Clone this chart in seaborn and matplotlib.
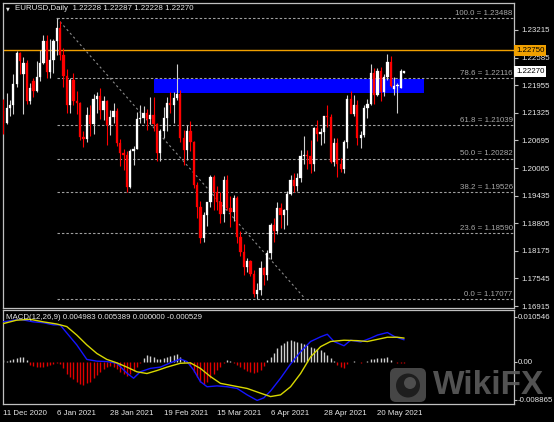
import numpy as np
import pandas as pd
import matplotlib
matplotlib.use("Agg")
import matplotlib.pyplot as plt
import seaborn as sns
from matplotlib.patches import Rectangle, FancyBboxPatch, Circle

# EURUSD daily candles, 11 Dec 2020 .. 1 Jun 2021
opens = [1.2136, 1.2110, 1.2143, 1.2150, 1.2198, 1.2268, 1.2222, 1.2246, 1.2160, 1.2205,
         1.2182, 1.2214, 1.2247, 1.2296, 1.2226, 1.2253, 1.2297, 1.2326, 1.2265, 1.2216,
         1.2150, 1.2208, 1.2160, 1.2154, 1.2077, 1.2073, 1.2128, 1.2106, 1.2163, 1.2170,
         1.2140, 1.2160, 1.2105, 1.2124, 1.2137, 1.2064, 1.2041, 1.2036, 1.1963, 1.2046,
         1.2050, 1.2119, 1.2120, 1.2133, 1.2119, 1.2128, 1.2106, 1.2040, 1.2092, 1.2120,
         1.2155, 1.2150, 1.2166, 1.2176, 1.2075, 1.2048, 1.2091, 1.2065, 1.1968, 1.1917,
         1.1847, 1.1899, 1.1928, 1.1985, 1.1952, 1.1929, 1.1901, 1.1978, 1.1915, 1.1905,
         1.1937, 1.1850, 1.1815, 1.1781, 1.1795, 1.1764, 1.1718, 1.1729, 1.1778, 1.1762,
         1.1812, 1.1876, 1.1862, 1.1915, 1.1899, 1.1911, 1.1948, 1.1980, 1.1965, 1.1983,
         1.2035, 1.2036, 1.2035, 1.2015, 1.2097, 1.2084, 1.2089, 1.2126, 1.2123, 1.2020,
         1.2063, 1.2016, 1.2004, 1.2065, 1.2164, 1.2130, 1.2150, 1.2075, 1.2082, 1.2144,
         1.2152, 1.2223, 1.2173, 1.2227, 1.2180, 1.2214, 1.2249, 1.2187, 1.2193, 1.2190,
         1.22228]
highs = [1.2163, 1.2178, 1.2161, 1.2220, 1.2273, 1.2272, 1.2260, 1.2252, 1.2200, 1.2212,
         1.2250, 1.2276, 1.2310, 1.2309, 1.2300, 1.2300, 1.2349, 1.2343, 1.2280, 1.2232,
         1.2211, 1.2223, 1.2182, 1.2158, 1.2090, 1.2145, 1.2150, 1.2175, 1.2180, 1.2189,
         1.2170, 1.2162, 1.2140, 1.2155, 1.2144, 1.2073, 1.2050, 1.2046, 1.2050, 1.2057,
         1.2135, 1.2150, 1.2149, 1.2142, 1.2169, 1.2169, 1.2110, 1.2095, 1.2145, 1.2168,
         1.2181, 1.2180, 1.2243, 1.2185, 1.2093, 1.2104, 1.2113, 1.2069, 1.1975, 1.1932,
         1.1906, 1.1929, 1.1990, 1.1990, 1.1965, 1.1952, 1.1988, 1.1990, 1.1942, 1.1944,
         1.1942, 1.1862, 1.1834, 1.1800, 1.1796, 1.1774, 1.1744, 1.1794, 1.1780, 1.1820,
         1.1880, 1.1893, 1.1928, 1.1926, 1.1914, 1.1955, 1.1990, 1.1994, 1.1994, 1.2048,
         1.2080, 1.2048, 1.2070, 1.2099, 1.2117, 1.2097, 1.2126, 1.2150, 1.2129, 1.2076,
         1.2076, 1.2029, 1.2071, 1.2172, 1.2182, 1.2174, 1.2161, 1.2090, 1.2150, 1.2165,
         1.2245, 1.2234, 1.2235, 1.2236, 1.2222, 1.2266, 1.2262, 1.2214, 1.2200, 1.2233,
         1.22287]
lows = [1.2083, 1.2108, 1.2126, 1.2130, 1.2191, 1.2222, 1.2129, 1.2153, 1.2153, 1.2168,
        1.2180, 1.2206, 1.2245, 1.2212, 1.2213, 1.2224, 1.2264, 1.2253, 1.2192, 1.2133,
        1.2132, 1.2151, 1.2130, 1.2071, 1.2054, 1.2066, 1.2080, 1.2084, 1.2132, 1.2118,
        1.2117, 1.2058, 1.2081, 1.2109, 1.2057, 1.2010, 1.2003, 1.1952, 1.1960, 1.2014,
        1.2049, 1.2109, 1.2109, 1.2093, 1.2108, 1.2092, 1.2023, 1.2022, 1.2076, 1.2091,
        1.2131, 1.2109, 1.2162, 1.2066, 1.2013, 1.2025, 1.2045, 1.1960, 1.1893, 1.1835,
        1.1837, 1.1875, 1.1917, 1.1910, 1.1910, 1.1880, 1.1884, 1.1910, 1.1873, 1.1885,
        1.1836, 1.1806, 1.1762, 1.1769, 1.1760, 1.1712, 1.17077, 1.1717, 1.1740, 1.1751,
        1.1798, 1.1838, 1.1855, 1.1869, 1.1868, 1.1876, 1.1944, 1.1951, 1.1955, 1.1975,
        1.2015, 1.2004, 1.1995, 1.2000, 1.2068, 1.2058, 1.2063, 1.2100, 1.2017, 1.2010,
        1.1986, 1.1998, 1.1995, 1.2052, 1.2131, 1.2125, 1.2060, 1.2052, 1.2078, 1.2120,
        1.2151, 1.2152, 1.2170, 1.2160, 1.2171, 1.2208, 1.2192, 1.2174, 1.2133, 1.2188,
        1.22228]
closes = [1.2109, 1.2143, 1.2150, 1.2198, 1.2268, 1.2250, 1.2246, 1.2160, 1.2190, 1.2182,
          1.2214, 1.2247, 1.2296, 1.2226, 1.2253, 1.2297, 1.2326, 1.2265, 1.2216, 1.2150,
          1.2208, 1.2160, 1.2154, 1.2077, 1.2073, 1.2128, 1.2106, 1.2163, 1.2170, 1.2140,
          1.2160, 1.2105, 1.2124, 1.2137, 1.2064, 1.2041, 1.2036, 1.1963, 1.2046, 1.2050,
          1.2119, 1.2120, 1.2133, 1.2119, 1.2128, 1.2106, 1.2040, 1.2092, 1.2120, 1.2155,
          1.2150, 1.2166, 1.2176, 1.2075, 1.2048, 1.2091, 1.2065, 1.1968, 1.1917, 1.1847,
          1.1899, 1.1928, 1.1985, 1.1952, 1.1929, 1.1901, 1.1978, 1.1915, 1.1905, 1.1937,
          1.1850, 1.1815, 1.1781, 1.1795, 1.1764, 1.1718, 1.1729, 1.1778, 1.1762, 1.1812,
          1.1876, 1.1862, 1.1915, 1.1899, 1.1911, 1.1948, 1.1980, 1.1965, 1.1983, 1.2035,
          1.2036, 1.2035, 1.2015, 1.2097, 1.2084, 1.2089, 1.2126, 1.2123, 1.2020, 1.2063,
          1.2016, 1.2004, 1.2065, 1.2164, 1.2130, 1.2150, 1.2075, 1.2082, 1.2144, 1.2152,
          1.2223, 1.2173, 1.2227, 1.2180, 1.2214, 1.2249, 1.2193, 1.2193, 1.2195, 1.2228,
          1.22270]

date_ticks = [0, 16, 32, 48, 64, 80, 96, 112]
date_labels = ["11 Dec 2020", "6 Jan 2021", "28 Jan 2021", "19 Feb 2021",
               "15 Mar 2021", "6 Apr 2021", "28 Apr 2021", "20 May 2021"]
price_ticks = [1.23215, 1.22585, 1.21955, 1.21325, 1.20695, 1.20065,
               1.19435, 1.18805, 1.18175, 1.17545, 1.16915]

fib_pcts = ["100.0", "78.6", "61.8", "50.0", "38.2", "23.6", "0.0"]
fib_levels = [1.23488, 1.22116, 1.21039, 1.20282, 1.19526, 1.18590, 1.17077]
fib_anchor_bars = [16, 90.4]
zone_bars = [45, 126]
zone_prices = [1.21770, 1.22090]
alert_price = 1.22750

# MACD(12,26,9) panel
main_bars = [0, 5, 9, 12, 15, 17, 19, 22, 25, 28, 31, 34, 37, 39, 41, 44, 47, 50, 53, 55,
             57, 59, 61, 64, 67, 70, 73, 76, 78, 80, 83, 86, 89, 92, 95, 97, 99, 102, 104, 107,
             110, 112, 115, 117, 120]
macd_main = [0.0094, 0.0100, 0.0094, 0.0092, 0.0087, 0.0087, 0.0068, 0.0040, 0.0006, 0.0002,
             0.0001, -0.0003, -0.0026, -0.0038, -0.0023, -0.0015, -0.0012, -0.0002, 0.0007, 0.0001,
             -0.0019, -0.0046, -0.0058, -0.0056, -0.0058, -0.0062, -0.0077, -0.0090, -0.0084, -0.0068,
             -0.0038, -0.0005, 0.0024, 0.0048, 0.0059, 0.0065, 0.0048, 0.0038, 0.0051, 0.0047,
             0.0056, 0.0063, 0.0069, 0.0060, 0.0052]
signal_bars = [0, 4, 8, 12, 16, 19, 22, 25, 28, 31, 34, 37, 40, 43, 46, 49, 53, 56, 59, 62,
               65, 69, 73, 77, 80, 83, 86, 89, 92, 95, 98, 102, 106, 109, 112, 115, 118, 120]
macd_signal = [0.0090, 0.0098, 0.0100, 0.0094, 0.0089, 0.0083, 0.0063, 0.0040, 0.0020, 0.0006,
               -0.0002, -0.0012, -0.0023, -0.0027, -0.0020, -0.0012, -0.0003, -0.0002, -0.0015, -0.0034,
               -0.0050, -0.0056, -0.0062, -0.0073, -0.0081, -0.0077, -0.0058, -0.0027, 0.0012, 0.0036,
               0.0048, 0.0051, 0.0050, 0.0048, 0.0053, 0.0058, 0.0058, 0.0056]
macd_hist = [0.0005, 0.0003, 0.0005, 0.0006, 0.0009, 0.0011, 0.0012, 0.0005, -0.0007, -0.0009,
             -0.0012, -0.0011, -0.0012, -0.0009, -0.0007, -0.0005, -0.0003, -0.0005, -0.0015, -0.0027,
             -0.0034, -0.0041, -0.0046, -0.0051, -0.0054, -0.0050, -0.0046, -0.0038, -0.0030, -0.0023,
             -0.0017, -0.0012, -0.0009, -0.0012, -0.0017, -0.0023, -0.0028, -0.0033, -0.0028, -0.0020,
             -0.0011, -0.0003, 0.0009, 0.0016, 0.0014, 0.0011, 0.0006, 0.0006, 0.0009, 0.0011,
             0.0014, 0.0016, 0.0019, 0.0011, 0.0005, -0.0003, -0.0009, -0.0023, -0.0034, -0.0046,
             -0.0051, -0.0048, -0.0038, -0.0028, -0.0019, -0.0011, -0.0003, 0.0005, 0.0003, -0.0003,
             -0.0007, -0.0012, -0.0017, -0.0020, -0.0023, -0.0025, -0.0023, -0.0019, -0.0009, 0.0005,
             0.0012, 0.0022, 0.0032, 0.0040, 0.0045, 0.0049, 0.0051, 0.0050, 0.0048, 0.0045,
             0.0042, 0.0039, 0.0036, 0.0032, 0.0030, 0.0027, 0.0024, 0.0016, 0.0009, 0.0002,
             -0.0007, -0.0012, -0.0015, -0.0005, 0.0000, 0.0003, 0.0000, -0.0003, 0.0000, 0.0003,
             0.0006, 0.0008, 0.0009, 0.0009, 0.0010, 0.0011, 0.0005, 0.0000, -0.0003, -0.0003,
             -0.0003]
macd_ticks = [0.010546, 0.0, -0.008865]
macd_tick_labels = ["0.010546", "0.00", "-0.008865"]
macd_text = "MACD(12,26,9) 0.004983 0.005389 0.000000 -0.000529"
header = "EURUSD,Daily  1.22228 1.22287 1.22228 1.22270"

sns.set_theme(style="dark", rc={"axes.facecolor": "black", "figure.facecolor": "black",
                                "axes.edgecolor": "#c0c0c0", "axes.linewidth": 0.9})
plt.rcParams["font.family"] = ["Liberation Sans", "DejaVu Sans"]

FS = 5.7
TXT = "#e6e6e6"
W, H = 554, 422


def box(x0, y0, x1, y1):
    return [x0 / W, 1 - y1 / H, (x1 - x0) / W, (y1 - y0) / H]


fig = plt.figure(figsize=(W / 100, H / 100), dpi=100)
ax = fig.add_axes(box(3, 3, 514, 308))
ax2 = fig.add_axes(box(3, 310, 514, 404))
XL = (-0.1, 152.9)

df = pd.DataFrame({"open": opens, "high": highs, "low": lows, "close": closes})
df["bar"] = np.arange(len(df))
df["up"] = df["close"] >= df["open"]
body = (df["close"] - df["open"]).where((df["close"] - df["open"]).abs() > 2e-5, 2e-5)

# zone, alert line and fibo
ax.add_patch(Rectangle((zone_bars[0], zone_prices[0]), zone_bars[1] - zone_bars[0],
                       zone_prices[1] - zone_prices[0], color="#0000ff", lw=0, zorder=1))
ax.axhline(alert_price, color="#f0a000", lw=1.0, zorder=2)
for pct, lvl in zip(fib_pcts, fib_levels):
    ax.hlines(lvl, fib_anchor_bars[0], XL[1], colors="#a0a0a0", linestyles=(0, (2.2, 1.8)),
              lw=0.8, zorder=2)
    ax.annotate(f"{pct} = {lvl:.5f}", xy=(0.9975, lvl), xycoords=ax.get_yaxis_transform(),
                xytext=(0, 0.8), textcoords="offset points", ha="right", va="bottom",
                fontsize=FS, color="#a8a8a8", zorder=5)
ax.plot(fib_anchor_bars, [fib_levels[0], fib_levels[-1]], color="#8a8a8a",
        ls=(0, (2, 2.5)), lw=0.8, zorder=2)

# candles
up, dn = df[df["up"]], df[~df["up"]]
ax.vlines(up["bar"], up["low"], up["high"], colors="#d0d0d0", lw=0.8, zorder=3)
ax.vlines(dn["bar"], dn["low"], dn["high"], colors="#ff0000", lw=0.8, zorder=3)
ax.bar(up["bar"], body[df["up"]], bottom=up["open"], width=0.68, color="white",
       edgecolor="white", lw=0.2, zorder=4)
ax.bar(dn["bar"], body[~df["up"]], bottom=dn["open"], width=0.68, color="#ff0000",
       edgecolor="#ff0000", lw=0.2, zorder=4)

ax.set_xlim(*XL)
ax.set_ylim(1.16870, 1.23831)
ax.set_xticks([])
ax.yaxis.tick_right()
ax.set_yticks(price_ticks, [f"{p:.5f}" for p in price_ticks])
ax.tick_params(axis="y", length=3, width=0.8, color="#c0c0c0", pad=2,
               labelsize=FS, labelcolor=TXT)

for price, fc in [(alert_price, "#f0a000"), (closes[-1], "white")]:
    ax.text(1.004, price, f"{price:.5f}", transform=ax.get_yaxis_transform(),
            ha="left", va="center", fontsize=FS, color="black", clip_on=False, zorder=6,
            bbox=dict(boxstyle="square,pad=0.25", fc=fc, ec="none"))

fig.text(6 / W, 1 - 8.5 / H, "▼", fontsize=3.5, color=TXT, va="center",
         family="DejaVu Sans")
fig.text(15 / W, 1 - 8.5 / H, header, fontsize=FS, color=TXT, va="center")

# MACD
hcol = ["#d0d0d0" if v > 0 else "#e00000" for v in macd_hist]
ax2.vlines(df["bar"], 0, macd_hist, colors=hcol, lw=1.0, zorder=2)
sns.lineplot(x=main_bars, y=macd_main, ax=ax2, color="#1515ff", lw=1.0,
             estimator=None, sort=False, zorder=3)
sns.lineplot(x=signal_bars, y=macd_signal, ax=ax2, color="#d8d800", lw=1.0,
             estimator=None, sort=False, zorder=4)
ax2.set_xlim(*XL)
ax2.set_ylim(-0.00984, 0.01218)
ax2.yaxis.tick_right()
ax2.set_yticks(macd_ticks, macd_tick_labels)
ax2.set_xticks(date_ticks, date_labels)
ax2.tick_params(axis="x", length=3, width=0.8, color="#c0c0c0", pad=1.5,
                labelsize=FS, labelcolor=TXT)
ax2.tick_params(axis="y", length=2, width=0.8, color="#c0c0c0", pad=0.8,
                labelsize=FS, labelcolor=TXT)
for lbl in ax2.get_xticklabels():
    lbl.set_ha("left")
ax2.text(0.006, 0.925, macd_text, transform=ax2.transAxes, fontsize=FS, color=TXT,
         va="center", zorder=6)

for a in (ax, ax2):
    a.grid(False)
    for s in a.spines.values():
        s.set_color("#c0c0c0")

# watermark
lax = fig.add_axes(box(389, 367, 427, 403))
lax.set_xlim(0, 38)
lax.set_ylim(0, 36)
lax.axis("off")
lax.add_patch(FancyBboxPatch((1, 1), 36, 34, boxstyle="round,pad=0,rounding_size=6",
                             fc="#4e4e4e", ec="none", alpha=0.9))
lax.add_patch(Circle((19, 17.5), 12, fc="#1e1e1e", ec="none"))
lax.add_patch(Circle((21, 20), 6, fc="#4e4e4e", ec="none"))
fig.text(433 / W, 1 - 386 / H, "WikiFX", fontsize=24, fontweight="bold",
         color="#5c5c5c", alpha=0.9, va="center", ha="left")

fig.savefig("out.png", dpi=100, facecolor="black")
